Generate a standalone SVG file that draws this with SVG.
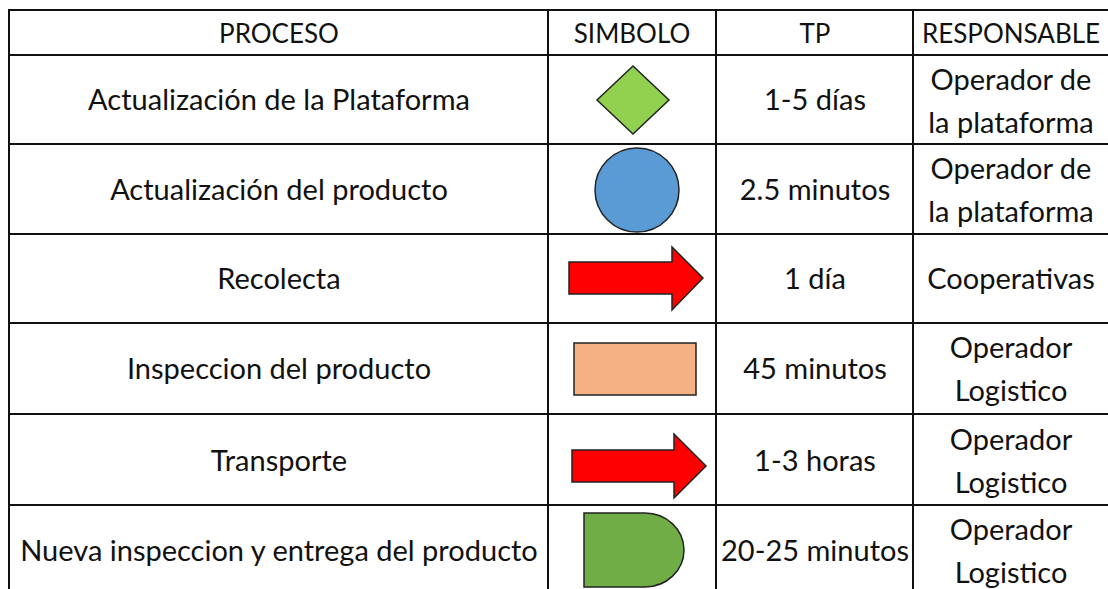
<svg xmlns="http://www.w3.org/2000/svg" width="1108" height="589" viewBox="0 0 1108 589">
<style>
.t{font-family:Lato,"Liberation Sans",sans-serif;font-size:29px;fill:#111;text-anchor:middle}
.h{font-size:26px}
.g{stroke:#111;stroke-width:2;fill:none}
.s{stroke:#222;stroke-width:1.5}
</style>
<rect width="1108" height="589" fill="#fff"/>
<g id="grid">
<line class="g" x1="9" y1="10" x2="1108" y2="10"/>
<line class="g" x1="9" y1="55" x2="1108" y2="55"/>
<line class="g" x1="9" y1="144" x2="1108" y2="144"/>
<line class="g" x1="9" y1="234" x2="1108" y2="234"/>
<line class="g" x1="9" y1="323" x2="1108" y2="323"/>
<line class="g" x1="9" y1="414" x2="1108" y2="414"/>
<line class="g" x1="9" y1="505" x2="1108" y2="505"/>
<line class="g" x1="9" y1="9" x2="9" y2="589"/>
<line class="g" x1="548" y1="9" x2="548" y2="589"/>
<line class="g" x1="716" y1="9" x2="716" y2="589"/>
<line class="g" x1="913" y1="9" x2="913" y2="589"/>
</g>
<g id="header">
<text class="t h" x="279" y="43">PROCESO</text>
<text class="t h" x="632" y="43">SIMBOLO</text>
<text class="t h" x="815" y="43">TP</text>
<text class="t h" x="1011" y="43">RESPONSABLE</text>
</g>
<g id="row1">
<text class="t" x="279" y="110">Actualización de la Plataforma</text>
<polygon class="s" points="633,66 669,100 633,134 597,100" fill="#92D050"/>
<text class="t" x="815" y="110">1-5 días</text>
<text class="t" x="1011" y="90">Operador de</text>
<text class="t" x="1011" y="133">la plataforma</text>
</g>
<g id="row2">
<text class="t" x="279" y="200">Actualización del producto</text>
<circle class="s" cx="637" cy="190" r="42" fill="#5B9BD5"/>
<text class="t" x="815" y="200">2.5 minutos</text>
<text class="t" x="1011" y="179">Operador de</text>
<text class="t" x="1011" y="222">la plataforma</text>
</g>
<g id="row3">
<text class="t" x="279" y="289">Recolecta</text>
<polygon class="s" points="569,262 672,262 672,247 703,278 672,310 672,294 569,294" fill="#FF0000"/>
<text class="t" x="815" y="289">1 día</text>
<text class="t" x="1011" y="289">Cooperativas</text>
</g>
<g id="row4">
<text class="t" x="279" y="379">Inspeccion del producto</text>
<rect class="s" x="574" y="343" width="122" height="52" fill="#F4B183"/>
<text class="t" x="815" y="379">45 minutos</text>
<text class="t" x="1011" y="358">Operador</text>
<text class="t" x="1011" y="401">Logistico</text>
</g>
<g id="row5">
<text class="t" x="279" y="471">Transporte</text>
<polygon class="s" points="572,450 674,450 674,434 706,466 674,498 674,482 572,482" fill="#FF0000"/>
<text class="t" x="815" y="471">1-3 horas</text>
<text class="t" x="1011" y="450">Operador</text>
<text class="t" x="1011" y="493">Logistico</text>
</g>
<g id="row6">
<text class="t" x="279" y="561">Nueva inspeccion y entrega del producto</text>
<path class="s" d="M584,513 H645 A39,37 0 0 1 645,587 H584 Z" fill="#70AD47"/>
<text class="t" x="815" y="561">20-25 minutos</text>
<text class="t" x="1011" y="540">Operador</text>
<text class="t" x="1011" y="583">Logistico</text>
</g>
</svg>
